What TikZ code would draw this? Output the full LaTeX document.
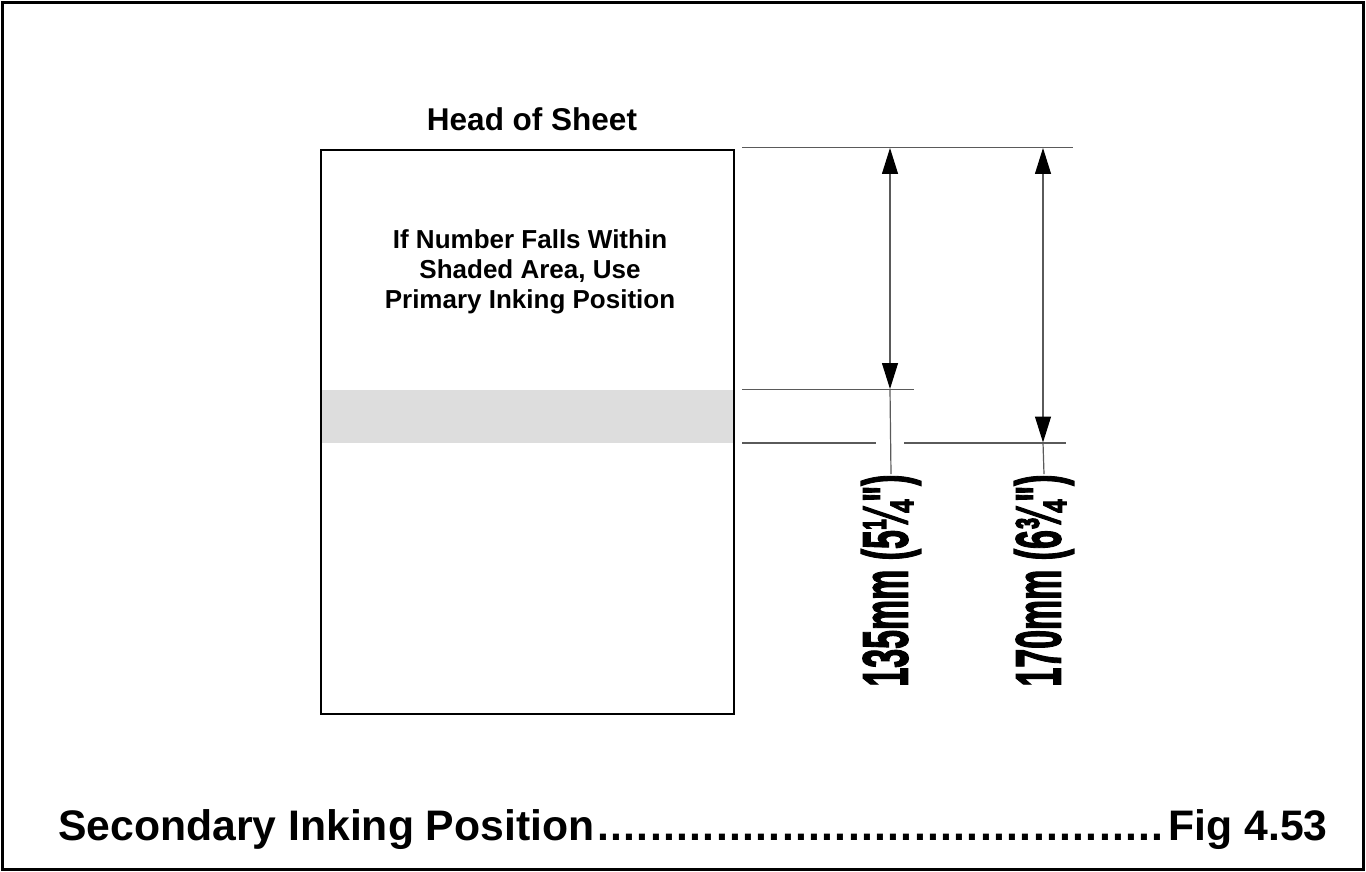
\documentclass[tikz,border=0pt]{standalone}
\usepackage{fontspec}
\usepackage{graphicx}
\setmainfont{Liberation Sans}
\newfontfamily\labfont{Liberation Sans}[BoldFeatures={FakeBold=2.5}]
\usetikzlibrary{arrows.meta}
\definecolor{dimgray}{HTML}{5A5A5A}
\definecolor{bandgray}{HTML}{DDDDDD}
\tikzset{
  extline/.style={draw=dimgray, line width=1.3pt},
  dimline/.style={draw=dimgray, line width=1.2pt},
  dimarrow/.style={dimline, {Triangle[length=26pt,width=16pt,fill=black,color=black]}-{Triangle[length=26pt,width=16pt,fill=black,color=black]}},
  dimlabel/.style={rotate=90, inner sep=0pt, anchor=center},
  plain/.style={inner sep=0pt, font=\bfseries},
}
\newcommand{\dimtext}[1]{\scalebox{0.53}[1]{\labfont\fontsize{64}{64}\selectfont\bfseries #1}}
\begin{document}
\begin{tikzpicture}[x=1pt,y=-1pt]
\useasboundingbox (0,0) rectangle (1366,872);
% outer frame
\draw[line width=2.4pt] (2.5,2.5) rectangle (1363.5,869.5);
% sheet
\fill[bandgray] (320,390) rectangle (733,443);
\node[draw, line width=2pt, minimum width=413pt, minimum height=564pt, inner sep=0pt, anchor=north west] (sheet) at (320,149) {};
% titles
\node[plain, anchor=base, font=\bfseries\fontsize{31.5}{32}\selectfont] (head) at (532,131) {Head of Sheet};
\node[plain, anchor=base, align=center, font=\bfseries\fontsize{26}{30}\selectfont] (note) at (530,308) {If Number Falls Within\\Shaded Area, Use\\Primary Inking Position};
% extension line coordinates
\coordinate (eTopL) at (742,147.5);
\coordinate (eTopR) at (1073,147.5);
\coordinate (eMidL) at (742,389.5);
\coordinate (eMidR) at (914,389.5);
\coordinate (eBotL) at (742,443);
\coordinate (eBotM1) at (876,443);
\coordinate (eBotM2) at (904,443);
\coordinate (eBotR) at (1066,443);
\draw[extline] (eTopL) -- (eTopR);
\draw[extline] (eMidL) -- (eMidR);
\draw[extline] (eBotL) -- (eBotM1);
\draw[extline] (eBotM2) -- (eBotR);
% dimension labels
\node[dimlabel] (lab1) at (891,580.5) {\dimtext{135mm (5¼")}};
\node[dimlabel] (lab2) at (1044,580.5) {\dimtext{170mm (6¾")}};
% dimension lines
\coordinate (a1t) at (890,148);
\coordinate (a1b) at (890,389);
\coordinate (a2t) at (1043,148);
\coordinate (a2b) at (1043,442.5);
\draw[dimarrow] (a1t) -- (a1b);
\draw[dimline] (a1b) -- (lab1.east);
\draw[dimarrow] (a2t) -- (a2b);
\draw[dimline] (a2b) -- (lab2.east);
% caption
\node[plain, anchor=base west, font=\bfseries\fontsize{42.7}{44}\selectfont] (cap) at (58,840) {\hbox to 1269pt{Secondary Inking Position\cleaders\hbox to 13.2pt{\hss.\hss}\hfill\kern2pt Fig 4.53}};
\end{tikzpicture}
\end{document}
